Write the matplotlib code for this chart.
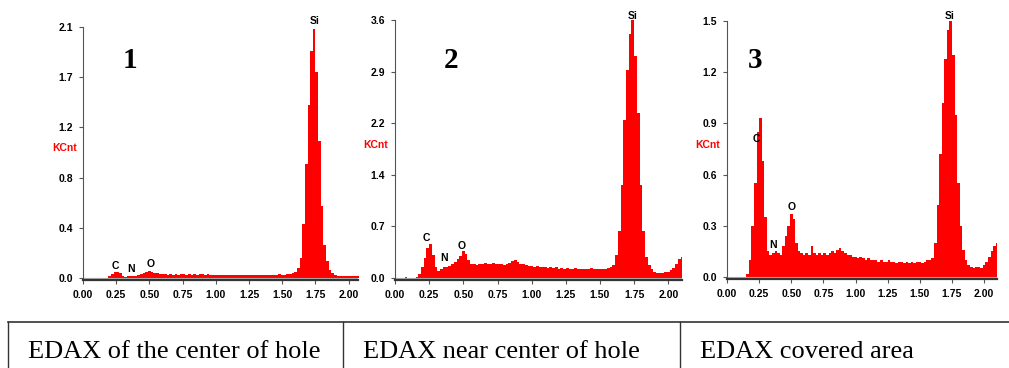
import numpy as np
import matplotlib
matplotlib.use('Agg')
import matplotlib.pyplot as plt
from matplotlib.lines import Line2D

# energy grid (keV), one value every 0.02 keV
energy = [round(0.02 * i, 2) for i in range(106)]

# counts (KCnt)
spec1 = [0, 0, 0, 0, 0, 0, 0, 0, 0, 0.004,
         0.02, 0.035, 0.048, 0.052, 0.04, 0.018, 0.012, 0.014, 0.015, 0.016,
         0.018, 0.022, 0.03, 0.04, 0.048, 0.055, 0.05, 0.042, 0.038, 0.032,
         0.03, 0.034, 0.028, 0.031, 0.027, 0.033, 0.029, 0.032, 0.03, 0.028,
         0.031, 0.027, 0.032, 0.029, 0.034, 0.03, 0.028, 0.031, 0.026, 0.029,
         0.027, 0.024, 0.028, 0.025, 0.026, 0.023, 0.027, 0.025, 0.024, 0.026,
         0.028, 0.024, 0.026, 0.023, 0.027, 0.025, 0.029, 0.024, 0.026, 0.025,
         0.027, 0.026, 0.028, 0.025, 0.03, 0.027, 0.029, 0.031, 0.034, 0.038,
         0.05, 0.08, 0.17, 0.45, 0.95, 1.45, 1.9, 2.08, 1.72, 1.15,
         0.6, 0.28, 0.14, 0.07, 0.04, 0.025, 0.02, 0.016, 0.018, 0.017,
         0.018, 0.016, 0.019, 0.017, 0.018, 0.018]
spec2 = [0, 0, 0, 0, 0.02, 0, 0, 0, 0.02, 0.06,
         0.15, 0.28, 0.42, 0.47, 0.32, 0.15, 0.1, 0.13, 0.15, 0.16,
         0.17, 0.2, 0.23, 0.27, 0.31, 0.37, 0.33, 0.25, 0.2, 0.19,
         0.18, 0.2, 0.19, 0.21, 0.2, 0.19, 0.21, 0.2, 0.19, 0.2,
         0.18, 0.19, 0.21, 0.24, 0.25, 0.23, 0.2, 0.19, 0.18, 0.17,
         0.17, 0.16, 0.17, 0.15, 0.16, 0.15, 0.14, 0.15, 0.14, 0.15,
         0.13, 0.14, 0.13, 0.14, 0.13, 0.12, 0.14, 0.13, 0.13, 0.12,
         0.13, 0.12, 0.14, 0.13, 0.12, 0.13, 0.12, 0.13, 0.14, 0.15,
         0.18, 0.32, 0.65, 1.3, 2.2, 2.9, 3.4, 3.6, 3.1, 2.3,
         1.3, 0.65, 0.3, 0.18, 0.12, 0.09, 0.07, 0.07, 0.07, 0.08,
         0.09, 0.11, 0.14, 0.2, 0.26, 0.3]
spec3 = [0, 0, 0, 0, 0, 0, 0, 0, 0.02, 0.1,
         0.3, 0.55, 0.85, 0.93, 0.68, 0.35, 0.15, 0.13, 0.14, 0.15,
         0.14, 0.13, 0.18, 0.24, 0.3, 0.37, 0.34, 0.2, 0.15, 0.14,
         0.13, 0.14, 0.13, 0.18, 0.14, 0.13, 0.14, 0.13, 0.14, 0.13,
         0.14, 0.15, 0.14, 0.16, 0.17, 0.15, 0.14, 0.13, 0.13, 0.12,
         0.12, 0.11, 0.12, 0.11, 0.1, 0.11, 0.1, 0.1, 0.1, 0.09,
         0.1, 0.09, 0.09, 0.1, 0.09, 0.09, 0.08, 0.09, 0.09, 0.08,
         0.09, 0.08, 0.09, 0.08, 0.09, 0.09, 0.08, 0.09, 0.1, 0.1,
         0.11, 0.2, 0.42, 0.72, 1.02, 1.28, 1.45, 1.5, 1.3, 0.95,
         0.55, 0.3, 0.16, 0.1, 0.07, 0.06, 0.05, 0.06, 0.06, 0.05,
         0.07, 0.09, 0.12, 0.15, 0.18, 0.2]

ytop = [2.1, 3.6, 1.5]
ylabels = [['0.0', '0.4', '0.8', '1.2', '1.7', '2.1'],
           ['0.0', '0.7', '1.4', '2.2', '2.9', '3.6'],
           ['0.0', '0.3', '0.6', '0.9', '1.2', '1.5']]
xticks = [0.0, 0.25, 0.5, 0.75, 1.0, 1.25, 1.5, 1.75, 2.0]
panel_ids = ['1', '2', '3']
# element label centres (keV, KCnt)
peaks = [
    [('C', 0.24, 0.10), ('N', 0.365, 0.075), ('O', 0.51, 0.117), ('Si', 1.74, 2.15)],
    [('C', 0.23, 0.56), ('N', 0.36, 0.28), ('O', 0.49, 0.45), ('Si', 1.74, 3.65)],
    [('C', 0.23, 0.81), ('N', 0.36, 0.19), ('O', 0.50, 0.41), ('Si', 1.73, 1.53)],
]
captions = ['EDAX of the center of hole', 'EDAX near center of hole', 'EDAX covered area']

W, H = 1009, 368
fig = plt.figure(figsize=(W / 100, H / 100), dpi=100)

# pixel boxes: left, right, top, bottom, x-max
boxes = [(83, 358, 27, 280, 2.07), (395, 682, 20, 280, 2.10), (727, 997, 21, 279, 2.10)]
zero_px = [278, 278, 277]
id_pos = [(130, 60), (451, 60), (755, 60)]
kcnt_x = [65, 376, 708]
kcnt_y = [148, 145, 145]

tick_font = dict(family='Liberation Sans', weight='bold', size=7.5)

for k, spec in enumerate([spec1, spec2, spec3]):
    l, r, t, b, xmax = boxes[k]
    ax = fig.add_axes([l / W, 1 - b / H, (r - l) / W, (b - t) / H])
    # y lower limit so that zero sits a couple of pixels above the axis line
    span = ytop[k] / (zero_px[k] - t)
    ylow = -(b - zero_px[k]) * span
    ax.fill_between(energy, spec, 0, step='mid', color='#ff0000', lw=0)
    ax.axhline(0, color='#b0b0b0', lw=0.8)
    ax.set_xlim(0, xmax)
    ax.set_ylim(ylow, ytop[k])
    ax.set_xticks(xticks)
    ax.set_xticklabels(['%.2f' % v for v in xticks], **tick_font)
    ax.set_yticks(np.linspace(0, ytop[k], 6))
    ax.set_yticklabels(ylabels[k], **tick_font)
    for s in ['top', 'right']:
        ax.spines[s].set_visible(False)
    ax.spines['left'].set_color('#555555')
    ax.spines['bottom'].set_color('#333333')
    ax.spines['bottom'].set_linewidth(1.6)
    ax.tick_params(length=3, width=0.8, color='#555555', pad=4)
    ax.patch.set_alpha(0)
    for name, xe, ye in peaks[k]:
        ax.text(xe, ye, name, ha='center', va='center', clip_on=False, **tick_font)
    fig.text(kcnt_x[k] / W, 1 - kcnt_y[k] / H, 'KCnt', color='#ff0000',
             ha='center', va='center', **tick_font)
    fig.text(id_pos[k][0] / W, 1 - id_pos[k][1] / H, panel_ids[k],
             family='Liberation Serif', weight='bold', size=21,
             ha='center', va='center')

# caption table
line_y = 1 - 322 / H
fig.add_artist(Line2D([8 / W, 1], [line_y, line_y], color='#333333', lw=1.2))
for xv in [8, 343, 680]:
    fig.add_artist(Line2D([xv / W, xv / W], [0, line_y], color='#333333', lw=1))
for xv, cap in zip([28, 363, 700], captions):
    fig.text(xv / W, 1 - 352 / H, cap, family='Liberation Serif', size=19,
             ha='left', va='center')

fig.savefig('out.png', dpi=100)
